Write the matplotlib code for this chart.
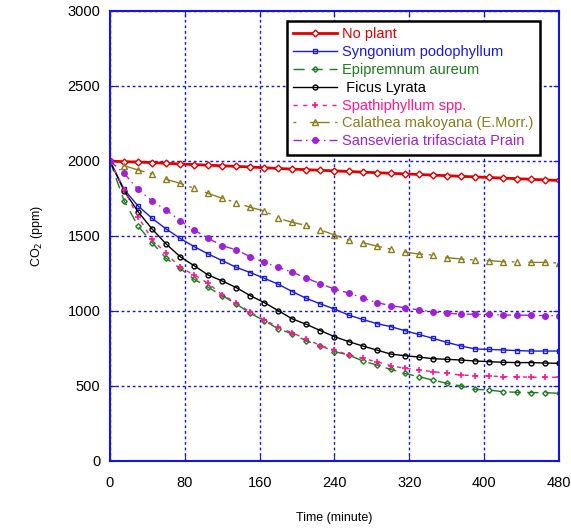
import matplotlib
matplotlib.use('Agg')
from matplotlib import pyplot as plt

plt.rcParams['font.family'] = ['Liberation Sans', 'DejaVu Sans']

# time in minutes, one reading every 15 min
time = list(range(0, 481, 15))

no_plant = [2000, 1995, 1993, 1989, 1985, 1980, 1976, 1972, 1968, 1964, 1960,
            1955, 1950, 1946, 1942, 1938, 1934, 1930, 1926, 1922, 1918, 1914,
            1910, 1906, 1902, 1898, 1894, 1890, 1886, 1882, 1878, 1874, 1870]
syngonium = [2000, 1811, 1700, 1618, 1547, 1484, 1429, 1380, 1336, 1291, 1256,
             1218, 1178, 1129, 1084, 1047, 1013, 973, 944, 916, 896, 869,
             844, 818, 791, 767, 747, 744, 740, 736, 733, 733, 733]
epipremnum = [2000, 1736, 1567, 1456, 1351, 1284, 1211, 1158, 1102, 1047, 984,
              936, 880, 847, 800, 769, 729, 707, 667, 640, 611, 584,
              562, 540, 518, 500, 478, 473, 462, 458, 456, 456, 451]
ficus = [2000, 1802, 1662, 1547, 1447, 1362, 1302, 1240, 1200, 1156, 1102,
         1056, 1002, 947, 911, 869, 829, 796, 767, 740, 713, 702,
         693, 682, 678, 673, 667, 662, 658, 656, 656, 653, 651]
spathiphyllum = [2000, 1807, 1629, 1478, 1384, 1291, 1240, 1184, 1107, 1056, 991,
                 940, 893, 854, 813, 769, 740, 707, 684, 662, 636, 618,
                 607, 596, 584, 573, 569, 567, 562, 562, 558, 558, 558]
calathea = [2000, 1969, 1940, 1913, 1878, 1851, 1818, 1784, 1751, 1722, 1691,
            1667, 1618, 1591, 1570, 1540, 1507, 1473, 1456, 1433, 1413, 1393,
            1380, 1373, 1356, 1347, 1340, 1336, 1329, 1327, 1324, 1324, 1320]
sansevieria = [2000, 1918, 1811, 1733, 1673, 1602, 1540, 1484, 1436, 1407, 1362,
               1324, 1291, 1258, 1220, 1180, 1147, 1120, 1087, 1056, 1036, 1022,
               1007, 995, 985, 980, 978, 978, 973, 973, 971, 969, 969]

fig = plt.figure(figsize=(5.71, 5.28), dpi=100)
ax = fig.add_axes([0.1926, 0.1269, 0.7864, 0.8523])

blue = '#1414E6'

ax.plot(time, no_plant, color='#E00000', lw=2, marker='D', ms=3.5,
        mfc='white', mec='#E00000', mew=1, label='No plant')
ax.plot(time, syngonium, color='#1a1ae0', lw=1, marker='s', ms=3.5,
        mfc='none', mec='#1a1ae0', label='Syngonium podophyllum')
ax.plot(time, epipremnum, color='#1E7B1E', lw=1, ls=(0, (8, 5)), marker='D', ms=2.8,
        mfc='none', mec='#1E7B1E', label='Epipremnum aureum')
ax.plot(time, ficus, color='black', lw=1, marker='o', ms=3.5,
        mfc='none', mec='black', label=' Ficus Lyrata')
ax.plot(time, spathiphyllum, color='#FF1493', lw=1, ls=(0, (3, 4)), marker='+', ms=5,
        mew=1.2, label='Spathiphyllum spp.')
ax.plot(time, calathea, color='#8B7D1B', lw=1, ls=(0, (2, 10, 14, 4)), marker='^', ms=4,
        mfc='none', mec='#8B7D1B', label='Calathea makoyana (E.Morr.)')
ax.plot(time, sansevieria, color='#A020D8', lw=1, ls=(0, (6, 3, 1, 3)), marker='o', ms=4,
        mfc='#A020D8', mec='#A020D8', label='Sansevieria trifasciata Prain')

ax.set_xlim(0, 480)
ax.set_ylim(0, 3000)
ax.set_xticks(range(0, 481, 80))
ax.set_yticks(range(0, 3001, 500))
ax.grid(True, color=blue, ls=(0, (2, 2)), lw=1)
for s in ax.spines.values():
    s.set_color(blue)
    s.set_linewidth(1.5)
ax.tick_params(axis='both', direction='in', colors=blue, labelcolor='black',
               labelsize=10.5, length=4, right=True, top=True, pad=7)
ax.tick_params(axis='x', pad=11)

ax.set_xlabel('Time (minute)', fontsize=9, labelpad=16)
ax.set_ylabel('CO$_2$ (ppm)', fontsize=9, labelpad=16)

leg = ax.legend(loc='upper right', bbox_to_anchor=(0.958, 0.978), fontsize=10.5,
                fancybox=False, framealpha=1, edgecolor='black',
                handlelength=3.0, labelspacing=0.26, borderpad=0.45,
                handletextpad=0.35, borderaxespad=0)
leg.get_frame().set_linewidth(1.8)
for text, line in zip(leg.get_texts(), leg.get_lines()):
    text.set_color(line.get_color())

plt.savefig('out.png', dpi=100)
